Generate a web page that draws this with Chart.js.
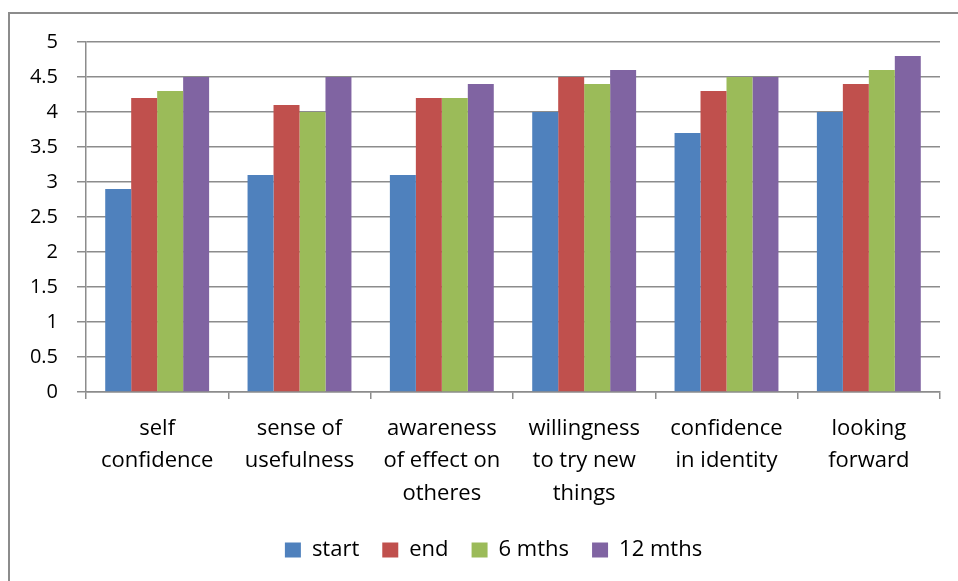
<!DOCTYPE html>
<html>
<head>
<meta charset="utf-8">
<script src="https://cdn.jsdelivr.net/npm/chart.js@4"></script>
<style>
  body { margin: 0; background: #fff; overflow: hidden; }
  .frame { position: absolute; left: 8px; top: 12px; width: 1000px; height: 700px; border: 2px solid #8c8c8c; }
  #chart { position: absolute; left: 0; top: 0; }
</style>
</head>
<body>
<div class="frame"></div>
<canvas id="chart" width="958" height="581"></canvas>
<script>
// categories (multi-line labels as in the original)
const categories = [
  ["self", "confidence"],
  ["sense of", "usefulness"],
  ["awareness", "of effect on", "otheres"],
  ["willingness", "to try new", "things"],
  ["confidence", "in identity"],
  ["looking", "forward"]
];
const seriesNames = ["start", "end", "6 mths", "12 mths"];
const startVals = [2.9, 3.1, 3.1, 4.0, 3.7, 4.0];
const endVals = [4.2, 4.1, 4.2, 4.5, 4.3, 4.4];
const sixMonthVals = [4.3, 4.0, 4.2, 4.4, 4.5, 4.6];
const twelveMonthVals = [4.5, 4.5, 4.4, 4.6, 4.5, 4.8];
const colors = ["#4F81BD", "#C0504D", "#9BBB59", "#8064A2"];

const allVals = [startVals, endVals, sixMonthVals, twelveMonthVals];
const FONT = "'Open Sans', 'Noto Sans', sans-serif";
const gridColor = "#8c8c8c";

// legend in the original sits a bit right of the canvas centre
const shiftLegend = {
  id: "shiftLegend",
  afterLayout(chart) {
    if (chart.legend) chart.legend.left += 47;
  }
};

const ctx = document.getElementById("chart").getContext("2d");
new Chart(ctx, {
  type: "bar",
  data: {
    labels: categories,
    datasets: seriesNames.map((name, i) => ({
      label: name,
      data: allVals[i],
      backgroundColor: colors[i],
      borderWidth: 0,
      categoryPercentage: 0.73,
      barPercentage: 1.0
    }))
  },
  plugins: [shiftLegend],
  options: {
    responsive: false,
    animation: false,
    layout: { padding: { top: 42, right: 18, left: 0, bottom: 10 } },
    scales: {
      x: {
        offset: true,
        grid: {
          offset: true,
          drawOnChartArea: false,
          drawTicks: true,
          tickLength: 7,
          color: gridColor,
          lineWidth: 1.5
        },
        border: { display: true, color: gridColor, width: 1.5 },
        ticks: {
          color: "#000",
          padding: 13,
          maxRotation: 0,
          autoSkip: false,
          font: { family: FONT, size: 22, lineHeight: 1.48 }
        },
        afterFit: (scale) => { scale.height = 124; }
      },
      y: {
        min: 0,
        max: 5,
        ticks: {
          stepSize: 0.5,
          color: "#000",
          padding: 19,
          font: { family: FONT, size: 20 },
          callback: (v) => String(Math.round(v * 10) / 10)
        },
        grid: { color: gridColor, lineWidth: 1.5, tickLength: 9 },
        border: { display: true, color: gridColor, width: 1.5 },
        afterFit: (scale) => { scale.width = 86; }
      }
    },
    plugins: {
      legend: {
        position: "bottom",
        labels: {
          color: "#000",
          boxWidth: 16,
          boxHeight: 15,
          padding: 23,
          font: { family: FONT, size: 22 }
        }
      },
      tooltip: { enabled: false }
    }
  }
});
</script>
</body>
</html>
